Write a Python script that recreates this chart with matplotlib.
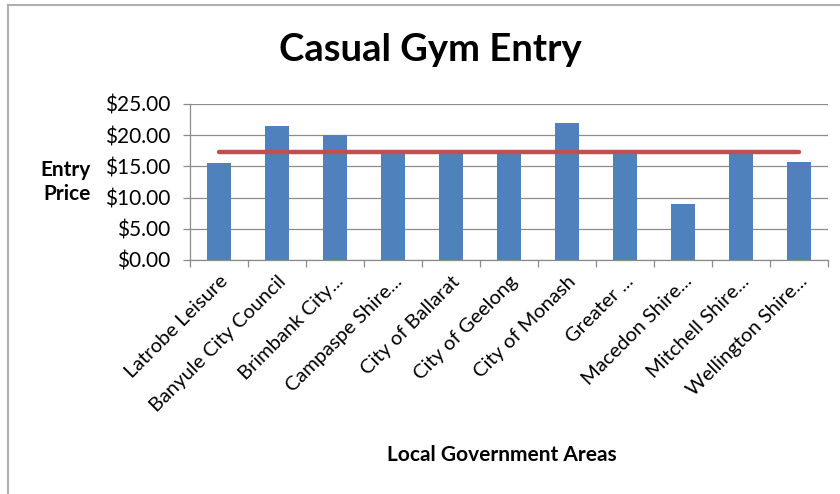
import numpy as np
import matplotlib
matplotlib.use("Agg")
import matplotlib.pyplot as plt
from matplotlib.lines import Line2D
from matplotlib.ticker import FuncFormatter, FixedLocator

# casual gym entry price for each council area, with the average drawn across
areas = ["Latrobe Leisure", "Banyule City Council", "Brimbank City...",
         "Campaspe Shire...", "City of Ballarat", "City of Geelong",
         "City of Monash", "Greater ...", "Macedon Shire...",
         "Mitchell Shire...", "Wellington Shire..."]
prices = [15.50, 21.50, 20.00, 17.50, 17.50, 17.50, 22.00, 17.50, 9.00, 17.50, 15.70]
yticks = [0, 5, 10, 15, 20, 25]

avg = [np.mean(prices)] * len(prices)

plt.rcParams['font.family'] = ['Lato', 'DejaVu Sans']

fig = plt.figure(figsize=(8.4, 4.94), dpi=100)
ax = fig.add_axes([190/840, 1-260/494, 638/840, 156/494])

x = np.arange(len(areas))
ax.bar(x, prices, width=0.4, color="#4F81BD", zorder=2)
ax.plot(x, avg, color="#C0504D", lw=3.2, solid_capstyle="round", zorder=3)

ax.set_xlim(-0.5, len(areas) - 0.5)
ax.set_ylim(0, 25)
ax.set_yticks(yticks)
ax.yaxis.set_major_formatter(FuncFormatter(lambda v, p: "${:.2f}".format(v)))
ax.grid(axis="y", color="#8C8C8C", lw=0.9, zorder=1)

ax.set_xticks(x)
ax.set_xticklabels(areas, rotation=45, ha="right", rotation_mode="anchor", fontsize=14.5)
ax.tick_params(axis="x", length=0, pad=9)
ax.xaxis.set_minor_locator(FixedLocator(np.arange(-0.5, len(areas), 1.0)))
ax.tick_params(axis="x", which="minor", length=5, color="#8C8C8C", width=0.9)
ax.tick_params(axis="y", length=5, color="#8C8C8C", width=0.9, labelsize=15, pad=9)

for side in ["top", "right"]:
    ax.spines[side].set_visible(False)
for side in ["left", "bottom"]:
    ax.spines[side].set_color("#8C8C8C")
    ax.spines[side].set_linewidth(0.9)

fig.text(430/840, 1-50/494, "Casual Gym Entry", ha="center", va="center",
         fontsize=27.5, fontweight="bold")
fig.text(502/840, 1-455/494, "Local Government Areas", ha="center", va="center",
         fontsize=15, fontweight="bold")
fig.text(91/840, 1-182/494, "Entry\nPrice", ha="right", va="center",
         multialignment="right", fontsize=15, fontweight="bold", linespacing=1.3)

# chart frame, left and top edges
fig.add_artist(Line2D([8/840, 8/840], [0, 1-5/494], color="#B0B0B0", lw=1.5))
fig.add_artist(Line2D([8/840, 1], [1-5/494, 1-5/494], color="#B0B0B0", lw=1.5))

fig.savefig("out.png", dpi=100)
